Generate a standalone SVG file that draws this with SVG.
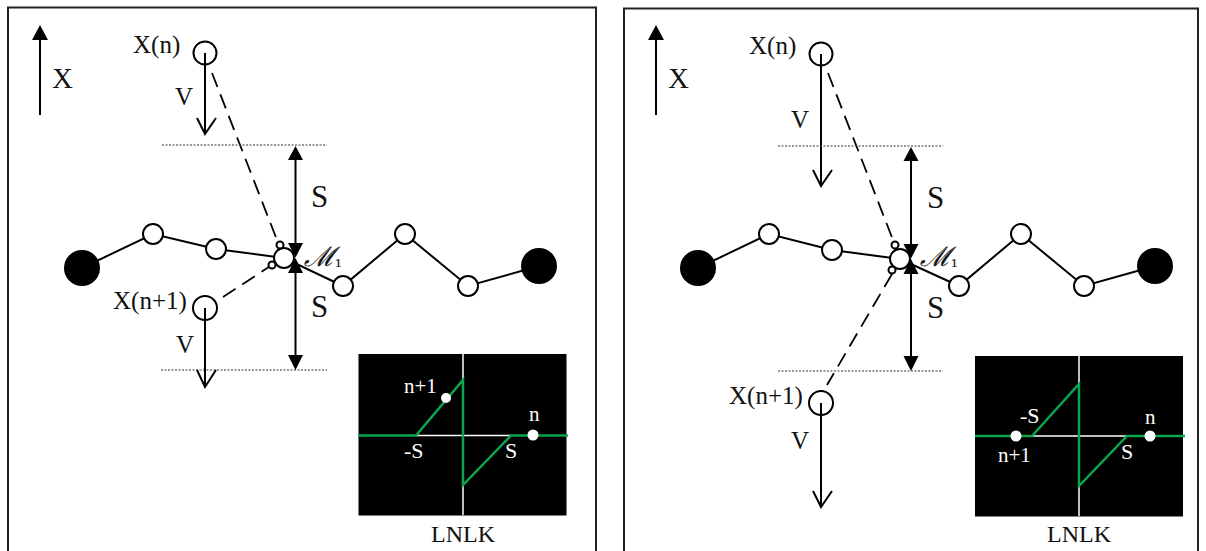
<svg xmlns="http://www.w3.org/2000/svg" width="1206" height="551" viewBox="0 0 1206 551">
<style>
text{font-family:"Liberation Serif",serif;fill:#111}
.frame{fill:none;stroke:#222;stroke-width:2}
.c{fill:#fff;stroke:#000;stroke-width:2}
.o{fill:none;stroke:#000;stroke-width:2}
.b{fill:#000}
.l{stroke:#000;stroke-width:2;fill:none}
.d{stroke:#000;stroke-width:1.800;stroke-dasharray:15 8;fill:none}
.dot{stroke:#333;stroke-width:1;stroke-dasharray:2 1.500;fill:none}
.ws{stroke:#fff;stroke-width:1.500;fill:none}
.g{stroke:#0aa64e;stroke-width:2.500;fill:none}
.w{fill:#fff}
.big{font-size:29px}.m{font-size:25px}.s{font-size:31px}.v{font-size:25px}
.in{font-size:21px;fill:#fff}.ins{font-size:22px;fill:#fff}.lab{font-size:24px;text-anchor:middle}
.sc{font-family:"DejaVu Serif",serif;font-style:italic;font-size:27px;stroke:#111;stroke-width:.2}
.sub{font-family:"Liberation Serif",serif;font-style:normal;font-size:13px}
</style>
<g id="left-panel">
<path class="frame" d="M8 551V7.500H596V551"/>
</g>
<g id="right-panel">
<path class="frame" d="M624 551V8.500H1198V551"/>
</g>
<g id="connectors">
<path class="l" d="M40 115V35"/><path class="b" d="M40 25l-8 15h16z"/>
<path class="l" d="M656 115V35"/><path class="b" d="M656 25l-8 15h16z"/>
<path class="l" d="M205 53V134M197 118L205 134L216 118"/>
<path class="d" d="M212 73L277 240"/>
<path class="dot" d="M162 145H327M161 370H327"/>
<path class="l" d="M295.500 155V250M295.500 265V360"/>
<path class="b" d="M295.500 146l-7.500 14h15zM288 243h15l-7.500 14.500zM288 273h15l-7.500 -15zM288 355h15l-7.500 15z"/>
<path class="l" d="M82 268L153 234L216 249L284 258L343 286L405 234L468 286L539 266"/>
<path class="d" d="M223 297L272 265"/>
<path class="l" d="M205 308V387M197 370L205 387L216 370"/>
<path class="l" d="M821 54V186M813 170L821 186L832 170"/>
<path class="d" d="M828 73L893 240"/>
<path class="dot" d="M778 146H943M778 371H943"/>
<path class="l" d="M911 155V250M911 265V362"/>
<path class="b" d="M911 147l-7.500 14h15zM903.500 244h15l-7.500 14.500zM903.500 274h15l-7.500 -15zM903.500 356h15l-7.500 15z"/>
<path class="l" d="M698 268L769 234L832 250L900 259L959 286L1021 234L1084 286L1155 266"/>
<path class="d" d="M892 274L827 385"/>
<path class="l" d="M821 403V507M813 491L821 507L832 491"/>
</g>
<g id="axis-label-left"><text class="big" x="52" y="88">X</text></g>
<g id="axis-label-right"><text class="big" x="668" y="88">X</text></g>
<g id="particle-n-left"><circle class="o" cx="205" cy="53" r="11.500"/><text class="m" x="133" y="53">X(n)</text><text class="v" x="175" y="105">V</text></g>
<g id="particle-n1-left"><circle class="o" cx="205" cy="308" r="12"/><text class="m" x="113" y="309">X(n+1)</text><text class="v" x="176" y="353">V</text></g>
<g id="labels-s-left"><text class="s" x="311" y="207">S</text><text class="s" x="311" y="317">S</text></g>
<g id="molecule-left">
<circle class="b" cx="82" cy="268" r="18"/><circle class="c" cx="153" cy="234" r="10"/><circle class="c" cx="216" cy="249" r="10"/><circle class="c" cx="284" cy="258" r="10"/><circle class="c" cx="343" cy="286" r="10"/><circle class="c" cx="405" cy="234" r="10"/><circle class="c" cx="468" cy="286" r="10"/><circle class="b" cx="539" cy="266" r="18"/>
<circle class="c" cx="280" cy="245" r="3.500" stroke-width="1.500"/><circle class="c" cx="272" cy="265" r="3.500"/>
<text class="sc" x="304" y="266">ℳ<tspan class="sub" dy="1">1</tspan></text>
</g>
<g id="inset-left">
<rect x="358.500" y="354" width="208" height="161.500" fill="#000"/>
<path class="ws" d="M463 354V515M416 435.500H511"/>
<path class="g" d="M358 435.500H416L463 380V485L511 435.500H568"/>
<circle class="w" cx="446" cy="398" r="5"/><circle class="w" cx="533" cy="435" r="5.500"/>
<text class="in" x="404" y="393">n+1</text><text class="in" x="529" y="421">n</text><text class="ins" x="404" y="458">-S</text><text class="ins" x="505" y="458">S</text>
<text class="lab" x="463" y="542">LNLK</text>
</g>
<g id="particle-n-right"><circle class="o" cx="821" cy="54" r="11.500"/><text class="m" x="749" y="54">X(n)</text><text class="v" x="791" y="128">V</text></g>
<g id="particle-n1-right"><circle class="o" cx="821" cy="403" r="12"/><text class="m" x="729" y="404">X(n+1)</text><text class="v" x="791" y="449">V</text></g>
<g id="labels-s-right"><text class="s" x="927" y="208">S</text><text class="s" x="927" y="318">S</text></g>
<g id="molecule-right">
<circle class="b" cx="698" cy="268" r="18"/><circle class="c" cx="769" cy="234" r="10"/><circle class="c" cx="832" cy="250" r="10"/><circle class="c" cx="900" cy="259" r="10"/><circle class="c" cx="959" cy="286" r="10"/><circle class="c" cx="1021" cy="234" r="10"/><circle class="c" cx="1084" cy="286" r="10"/><circle class="b" cx="1155" cy="266" r="18"/>
<circle class="c" cx="895" cy="245" r="3.500"/><circle class="c" cx="892" cy="270" r="3.500"/>
<text class="sc" x="920" y="266">ℳ<tspan class="sub" dy="1">1</tspan></text>
</g>
<g id="inset-right">
<rect x="975" y="356" width="208" height="160.500" fill="#000"/>
<path class="ws" d="M1079 356V516M1032 436H1127"/>
<path class="g" d="M975 436H1032L1079 384V486L1127 436H1185"/>
<circle class="w" cx="1016" cy="436" r="5.500"/><circle class="w" cx="1150" cy="436" r="5.500"/>
<text class="in" x="998" y="462">n+1</text><text class="in" x="1145" y="424">n</text><text class="ins" x="1020" y="423">-S</text><text class="ins" x="1121" y="459">S</text>
<text class="lab" x="1079" y="542">LNLK</text>
</g>
</svg>
